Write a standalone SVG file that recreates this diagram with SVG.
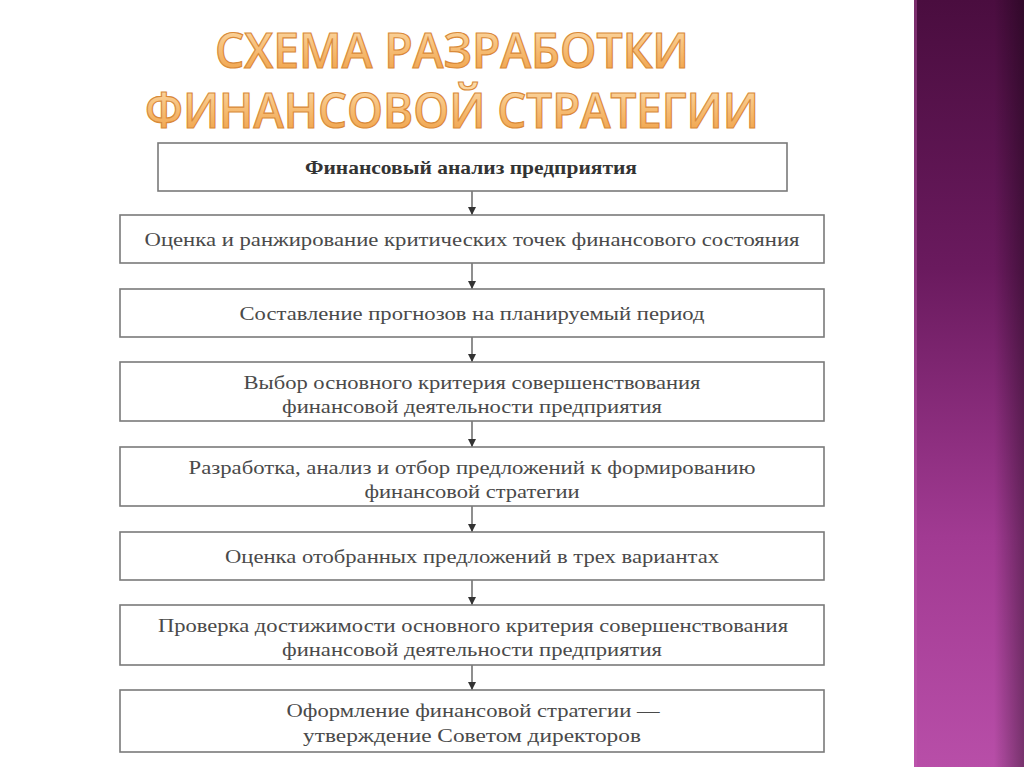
<svg xmlns="http://www.w3.org/2000/svg" width="1024" height="767" viewBox="0 0 1024 767">
<defs>
<linearGradient id="side" x1="0" y1="0" x2="0" y2="1">
<stop offset="0" stop-color="#4a0d3f"/>
<stop offset="0.35" stop-color="#6a1a5e"/>
<stop offset="0.7" stop-color="#a13a92"/>
<stop offset="1" stop-color="#b84ea8"/>
</linearGradient>
<linearGradient id="edge" x1="0" y1="0" x2="1" y2="0">
<stop offset="0" stop-color="#000" stop-opacity="0"/>
<stop offset="1" stop-color="#000" stop-opacity="0.35"/>
</linearGradient>
<linearGradient id="title" x1="0" y1="0" x2="0" y2="1">
<stop offset="0" stop-color="#fde3b8"/>
<stop offset="0.45" stop-color="#f7c07a"/>
<stop offset="1" stop-color="#ee9a3c"/>
</linearGradient>
<marker id="arr" viewBox="0 0 10 10" refX="10" refY="5" markerWidth="8" markerHeight="8" markerUnits="userSpaceOnUse" orient="auto">
<path d="M0,0 L10,5 L0,10 z" fill="#333"/>
</marker>
<style>
.box{fill:#fff;stroke:#7a7a7a;stroke-width:1.6}
.t{font-family:"Liberation Serif","DejaVu Serif",serif;font-size:19px;fill:#4a4a4a;text-anchor:middle}
.b{font-weight:bold;fill:#333}
.ttl{font-family:"Open Sans","DejaVu Sans",sans-serif;font-size:48px;font-weight:600;fill:url(#title);stroke:#d98a3a;stroke-width:1.2;text-anchor:middle}
.c{stroke:#444;stroke-width:1.2;fill:none;marker-end:url(#arr)}
</style>
</defs>
<rect width="1024" height="767" fill="#ffffff"/>
<g id="sidebar">
<rect x="914" y="0" width="110" height="767" fill="url(#side)"/>
<rect x="994" y="0" width="30" height="767" fill="url(#edge)"/>
<rect x="914" y="0" width="3" height="767" fill="#c060b0" opacity="0.4"/>
</g>
<g id="title-text">
<text class="ttl" x="452" y="68" textLength="474" lengthAdjust="spacingAndGlyphs">СХЕМА РАЗРАБОТКИ</text>
<text class="ttl" x="452" y="128" textLength="614" lengthAdjust="spacingAndGlyphs">ФИНАНСОВОЙ СТРАТЕГИИ</text>
</g>
<g id="connectors">
<line class="c" x1="472" y1="191" x2="472" y2="215"/>
<line class="c" x1="472" y1="263" x2="472" y2="289"/>
<line class="c" x1="472" y1="337" x2="472" y2="362"/>
<line class="c" x1="472" y1="421" x2="472" y2="447"/>
<line class="c" x1="472" y1="506" x2="472" y2="532"/>
<line class="c" x1="472" y1="580" x2="472" y2="605"/>
<line class="c" x1="472" y1="665" x2="472" y2="690"/>
</g>
<g id="n1"><rect class="box" x="158" y="143" width="629" height="48"/><text class="t b" x="471" y="174" textLength="332" lengthAdjust="spacingAndGlyphs">Финансовый анализ предприятия</text></g>
<g id="n2"><rect class="box" x="120" y="215" width="704" height="48"/><text class="t" x="472" y="246" textLength="655" lengthAdjust="spacingAndGlyphs">Оценка и ранжирование критических точек финансового состояния</text></g>
<g id="n3"><rect class="box" x="120" y="289" width="704" height="48"/><text class="t" x="472" y="320" textLength="465" lengthAdjust="spacingAndGlyphs">Составление прогнозов на планируемый период</text></g>
<g id="n4"><rect class="box" x="120" y="362" width="704" height="59"/><text class="t" x="472" y="389" textLength="457" lengthAdjust="spacingAndGlyphs">Выбор основного критерия совершенствования</text><text class="t" x="472" y="413" textLength="380" lengthAdjust="spacingAndGlyphs">финансовой деятельности предприятия</text></g>
<g id="n5"><rect class="box" x="120" y="447" width="704" height="59"/><text class="t" x="472" y="474" textLength="567" lengthAdjust="spacingAndGlyphs">Разработка, анализ и отбор предложений к формированию</text><text class="t" x="472" y="498" textLength="215" lengthAdjust="spacingAndGlyphs">финансовой стратегии</text></g>
<g id="n6"><rect class="box" x="120" y="532" width="704" height="48"/><text class="t" x="472" y="563" textLength="494" lengthAdjust="spacingAndGlyphs">Оценка отобранных предложений в трех вариантах</text></g>
<g id="n7"><rect class="box" x="120" y="605" width="704" height="60"/><text class="t" x="473" y="632" textLength="630" lengthAdjust="spacingAndGlyphs">Проверка достижимости основного критерия совершенствования</text><text class="t" x="472" y="656" textLength="380" lengthAdjust="spacingAndGlyphs">финансовой деятельности предприятия</text></g>
<g id="n8"><rect class="box" x="120" y="690" width="704" height="62"/><text class="t" x="473" y="717" textLength="373" lengthAdjust="spacingAndGlyphs">Оформление финансовой стратегии —</text><text class="t" x="472" y="742" textLength="338" lengthAdjust="spacingAndGlyphs">утверждение Советом директоров</text></g>
</svg>
